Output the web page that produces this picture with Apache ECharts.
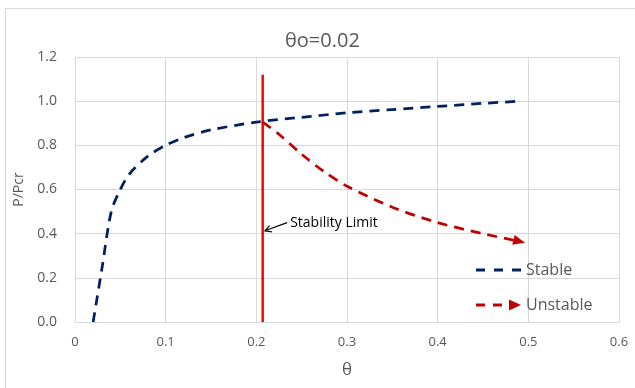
<!DOCTYPE html>
<html>
<head>
<meta charset="utf-8">
<script src="https://cdn.jsdelivr.net/npm/echarts@6/dist/echarts.min.js"></script>
<style>
html,body{margin:0;padding:0;background:#fff;}
#main{width:635px;height:388px;}
</style>
</head>
<body>
<div id="main"></div>
<script>
// 数据
var stableTheta = [0.02, 0.03, 0.04, 0.05, 0.06, 0.08, 0.1, 0.12, 0.15, 0.2, 0.25, 0.3, 0.35, 0.4, 0.45, 0.491];
var stableP     = [0, 0.25, 0.5, 0.60, 0.67, 0.75, 0.80, 0.835, 0.87, 0.905, 0.927, 0.947, 0.962, 0.976, 0.99, 1.0];
var unstableTheta = [0.207, 0.225, 0.25, 0.275, 0.3, 0.35, 0.4, 0.45, 0.49];
var unstableP     = [0.905, 0.85, 0.76, 0.68, 0.615, 0.52, 0.45, 0.40, 0.365];
var limitTheta = [0.207, 0.207];
var limitP     = [0, 1.12];
var xTicks = [0, 0.1, 0.2, 0.3, 0.4, 0.5, 0.6];
var yTicks = [0, 0.2, 0.4, 0.6, 0.8, 1.0, 1.2];

function pairs(a, b){
	var out = [];
	for (var i = 0; i < a.length; i++) {
		out.push([a[i], b[i]]);
	}
	return out;
}

var unstableData = pairs(unstableTheta, unstableP);
var last = unstableData.length - 1;
unstableData[last] = {
	value: unstableData[last],
	symbol: 'triangle',
	symbolSize: [10, 12],
	symbolRotate: -104
};

var gray = '#595959';
var chart = echarts.init(document.getElementById('main'));
var option = {
	animation: false,
	backgroundColor: '#fff',
	title: {
		text: 'θo=0.02',
		left: 280,
		top: 26,
		textStyle: {color: gray, fontSize: 20, fontWeight: 'normal', fontFamily: 'Open Sans'}
	},
	grid: {left: 75, right: 16, top: 57, bottom: 66},
	legend: {
		orient: 'vertical',
		left: 471,
		top: 257,
		itemWidth: 45,
		itemHeight: 13,
		itemGap: 19,
		textStyle: {color: gray, fontSize: 16, fontFamily: 'Open Sans'},
		data: [
			{name: 'Stable', icon: 'path://M0,0h0.05v0.05h-0.05z M0,5h9v3h-9z M18,5h9v3h-9z M36,5h9v3h-9z M44.95,12.95h0.05v0.05h-0.05z'},
			{name: 'Unstable', icon: 'path://M0,0h0.05v0.05h-0.05z M0,5h9v3h-9z M17,5h9v3h-9z M33,1L45,6.5L33,12z M44.95,12.95h0.05v0.05h-0.05z'}
		]
	},
	xAxis: {
		type: 'value',
		min: xTicks[0],
		max: xTicks[xTicks.length - 1],
		interval: 0.1,
		name: 'θ',
		nameLocation: 'middle',
		nameGap: 40,
		nameTextStyle: {color: gray, fontSize: 17, fontFamily: 'Open Sans'},
		axisLine: {show: true, lineStyle: {color: '#d9d9d9'}},
		axisTick: {show: false},
		axisLabel: {color: gray, fontSize: 13, margin: 14, fontFamily: 'Open Sans'},
		splitLine: {show: true, lineStyle: {color: '#d9d9d9'}}
	},
	yAxis: {
		type: 'value',
		min: yTicks[0],
		max: yTicks[yTicks.length - 1],
		interval: 0.2,
		name: 'P/Pcr',
		nameLocation: 'middle',
		nameGap: 48,
		nameTextStyle: {color: gray, fontSize: 14, fontFamily: 'Open Sans'},
		axisLine: {show: false},
		axisTick: {show: false},
		axisLabel: {
			color: gray, fontSize: 14, margin: 18, fontFamily: 'Open Sans',
			formatter: function(v){ return v.toFixed(1); }
		},
		splitLine: {show: true, lineStyle: {color: '#d9d9d9'}}
	},
	series: [
		{
			name: 'Stable',
			type: 'line',
			smooth: 0.3,
			symbol: 'none',
			data: pairs(stableTheta, stableP),
			itemStyle: {color: '#002060'},
			lineStyle: {color: '#002060', width: 2.75, type: [10, 7]},
			z: 3
		},
		{
			name: 'Unstable',
			type: 'line',
			smooth: 0.3,
			symbol: 'none',
			data: unstableData,
			itemStyle: {color: '#c00000'},
			lineStyle: {color: '#c00000', width: 2.75, type: [10, 7]},
			z: 3
		},
		{
			name: 'Limit',
			type: 'line',
			symbol: 'none',
			data: pairs(limitTheta, limitP),
			lineStyle: {color: '#ff0000', width: 2.5},
			z: 2
		}
	]
};
chart.setOption(option);

// 注释：Stability Limit 及箭头
var tip = chart.convertToPixel({gridIndex: 0}, [0.2095, 0.413]);
var tail = chart.convertToPixel({gridIndex: 0}, [0.234, 0.45]);
var ang = Math.atan2(tail[1] - tip[1], tail[0] - tip[0]);
var hl = 7;
var h1 = [tip[0] + hl * Math.cos(ang + 0.5), tip[1] + hl * Math.sin(ang + 0.5)];
var h2 = [tip[0] + hl * Math.cos(ang - 0.5), tip[1] + hl * Math.sin(ang - 0.5)];
chart.setOption({
	graphic: [
		{
			type: 'rect', silent: true,
			shape: {x: 5.5, y: 8.5, width: 660, height: 420},
			style: {fill: 'none', stroke: '#d9d9d9', lineWidth: 1}
		},
		{
			type: 'polyline', silent: true,
			shape: {points: [tail, tip]},
			style: {stroke: '#000', lineWidth: 1.2, fill: 'none'}
		},
		{
			type: 'polyline', silent: true,
			shape: {points: [h1, tip, h2]},
			style: {stroke: '#000', lineWidth: 1.2, fill: 'none'}
		},
		{
			type: 'text', silent: true,
			x: tail[0] + 3, y: tail[1],
			style: {text: 'Stability Limit', fill: '#000', fontSize: 14, fontFamily: 'Open Sans', verticalAlign: 'middle'}
		}
	]
});
</script>
</body>
</html>
